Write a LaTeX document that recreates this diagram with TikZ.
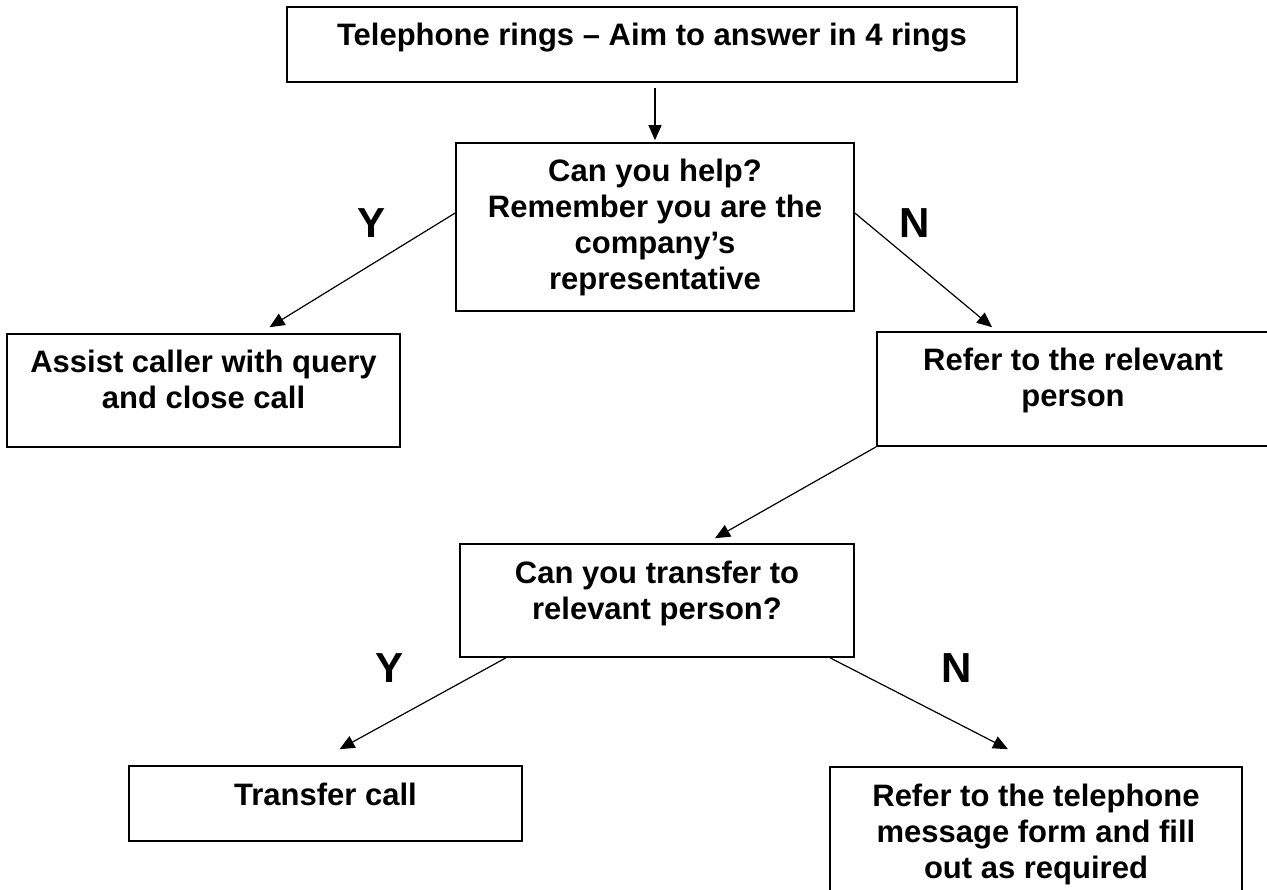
\documentclass[tikz,border=0pt]{standalone}
\usepackage{fontspec}
\setmainfont{Liberation Sans}
\usetikzlibrary{arrows.meta, calc}
\newcommand{\boxtext}[3]{\parbox[c][#2pt][t]{#1pt}{\centering\rule{0pt}{39pt}#3}}
\tikzset{
  chart/.style = {
    font=\bfseries\fontsize{31}{36}\selectfont,
    >={Triangle[length=15pt, width=13pt]},
  },
  box/.style = {
    rectangle, draw=black, line width=1.6pt, fill=white, inner sep=0pt,
  },
  arr/.style = {->, line width=1.2pt, draw=black},
  yn/.style = {font=\bfseries\fontsize{42}{48}\selectfont, inner sep=0pt},
}

\begin{document}
\begin{tikzpicture}[chart, x=1pt, y=1pt]
\useasboundingbox (0,0) rectangle (1267,-890);
\clip (0,0) rectangle (1267,-890);

\node[box] (ring)   at (652,-44.5)  {\boxtext{730}{75}{Telephone rings – Aim to answer in 4 rings}};
\node[box] (help)   at (655,-227)   {\boxtext{398}{168}{Can you help?\\Remember you are the\\company’s\\representative}};
\node[box] (assist) at (203.5,-390.5) {\boxtext{393}{113}{Assist caller with query\\and close call}};
\node[box] (refer)  at (1073,-389)  {\boxtext{392}{114}{Refer to the relevant\\person}};
\node[box] (ask)    at (657,-600.5) {\boxtext{394}{113}{Can you transfer to\\relevant person?}};
\node[box] (xfer)   at (325.5,-803.5) {\boxtext{393}{75}{Transfer call}};
\node[box] (msg)    at (1036,-831)  {\boxtext{412}{128}{Refer to the telephone\\message form and fill\\out as required}};

\node[yn] (yes1) at (372,-223) {Y};
\node[yn] (no1)  at (915,-223) {N};
\node[yn] (yes2) at (390,-668) {Y};
\node[yn] (no2)  at (957,-668) {N};

\draw[arr, shorten <=5pt, shorten >=2pt] (help.north |- ring.south) -- (help.north);
\draw[arr] ($(help.west)+(0,14)$) -- ($(assist.north)+(66,6)$);
\draw[arr] ($(help.east)+(0,14)$) -- ($(refer.north)+(-81,4)$);
\draw[arr] (refer.south west) -- ($(ask.north)+(58,5)$);
\draw[arr] ($(ask.south)+(-151,0)$) -- ($(xfer.north)+(14,16)$);
\draw[arr] ($(ask.south)+(173,0)$) -- ($(msg.north)+(-28,17)$);

\end{tikzpicture}
\end{document}
